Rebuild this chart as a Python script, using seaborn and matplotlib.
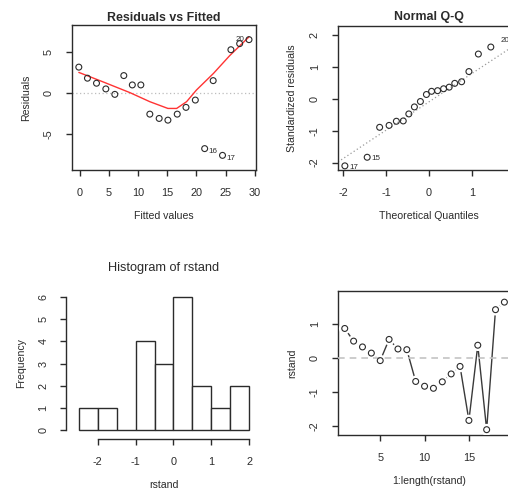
import matplotlib
matplotlib.use("Agg")
import numpy as np
import matplotlib.pyplot as plt
import seaborn as sns

# residuals vs fitted
fitted = [-0.17, 1.31, 2.86, 4.46, 6.0, 7.54, 9.0, 10.46, 12.0, 13.6,
          15.1, 16.7, 18.2, 19.8, 21.4, 22.86, 24.46, 25.9, 27.4, 29.0]
resid = [3.18, 1.82, 1.2, 0.5, -0.17, 2.14, 0.99, 0.99, -2.6, -3.13,
         -3.34, -2.6, -1.77, -0.87, -6.84, 1.52, -7.67, 5.32, 6.07, 6.56]
resid_label_at = [14, 16, 19]
resid_labels = ["16", "17", "20"]

# red smoother
smooth_x = [-0.17, 4.0, 8.6, 12.0, 15.1, 16.6, 18.3, 20.0, 22.9, 25.7, 29.0]
smooth_y = [2.53, 1.36, 0.04, -1.07, -1.9, -1.9, -1.07, 0.37, 2.4, 4.6, 6.9]

# standardized residuals, in observation order 1..20
rstand = [0.86, 0.49, 0.32, 0.14, -0.08, 0.54, 0.26, 0.24, -0.69, -0.83,
          -0.89, -0.70, -0.47, -0.25, -1.83, 0.37, -2.10, 1.41, 1.63, 1.83]

# normal Q-Q
qq_theory = [-1.96, -1.44, -1.15, -0.93, -0.76, -0.60, -0.47, -0.34, -0.20, -0.06,
             0.06, 0.20, 0.34, 0.47, 0.60, 0.76, 0.93, 1.15, 1.44, 1.96]
qq_labels = ["17", "15", "20"]
qq_slope = 0.89
qq_intercept = -0.09

hist_edges = [-2.5, -2.0, -1.5, -1.0, -0.5, 0.0, 0.5, 1.0, 1.5, 2.0]

INK = "#2b2b2b"
W, H = 508, 491

sns.set_style("white")
plt.rcParams["font.family"] = ["Liberation Sans", "DejaVu Sans"]
plt.rcParams["axes.unicode_minus"] = False
plt.rcParams["axes.edgecolor"] = INK
plt.rcParams["axes.linewidth"] = 1.0
plt.rcParams["text.color"] = INK
plt.rcParams["axes.labelcolor"] = INK
plt.rcParams["xtick.color"] = INK
plt.rcParams["ytick.color"] = INK


def box(fig, left, top, right, bottom):
    # pixel box -> figure fraction
    return fig.add_axes([left / W, 1 - bottom / H, (right - left) / W, (bottom - top) / H])


def r_axes(ax, xlabel, ylabel, title=None, title_pad=3, bold=True):
    ax.tick_params(axis="both", direction="out", length=4, width=1,
                   labelsize=7.8, pad=9, bottom=True, left=True)
    plt.setp(ax.get_yticklabels(), rotation=90, va="center")
    ax.set_xlabel(xlabel, fontsize=7.6, labelpad=9)
    ax.set_ylabel(ylabel, fontsize=7.6, labelpad=9)
    if title:
        if bold:
            ax.set_title(title, fontsize=8.9, fontweight="bold", pad=title_pad)
        else:
            ax.set_title(title, fontsize=9.2, pad=title_pad)


def hollow(ax, x, y):
    sns.scatterplot(x=x, y=y, ax=ax, marker="o", s=18, facecolor="none",
                    edgecolor=INK, linewidth=0.8, zorder=5)


fig = plt.figure(figsize=(W / 100, H / 100), dpi=100)

# --- Residuals vs Fitted
ax1 = box(fig, 72, 25, 256, 170)
ax1.axhline(0, color="#bdbdbd", lw=0.9, ls=(0, (1, 2)), zorder=1)
hollow(ax1, fitted, resid)
sns.lineplot(x=smooth_x, y=smooth_y, ax=ax1, color="#ff3333", lw=1.0, sort=False, zorder=4)
for i, lab in zip(resid_label_at, resid_labels):
    if fitted[i] > 26:
        ax1.annotate(lab, (fitted[i], resid[i]), xytext=(-3, 0), textcoords="offset points",
                     ha="right", va="center", fontsize=5.8)
    else:
        ax1.annotate(lab, (fitted[i], resid[i]), xytext=(3, -2), textcoords="offset points",
                     ha="left", va="center", fontsize=5.8)
ax1.set_xlim(-1.34, 30.2)
ax1.set_ylim(-9.47, 8.36)
ax1.set_xticks([0, 5, 10, 15, 20, 25, 30])
ax1.set_yticks([-5, 0, 5])
r_axes(ax1, "Fitted values", "Residuals", "Residuals vs Fitted")

# --- Normal Q-Q
ax2 = box(fig, 338, 26, 520, 170)
qq_sorted = sorted(rstand)
ax2.axline((0, qq_intercept), slope=qq_slope, color="#9a9a9a", lw=0.9, ls=(0, (1, 2)), zorder=1)
hollow(ax2, qq_theory, qq_sorted)
for pos, lab in zip([0, 1, len(qq_sorted) - 1], qq_labels):
    if qq_theory[pos] > 0:
        ax2.annotate(lab, (qq_theory[pos], qq_sorted[pos]), xytext=(-3, 0), textcoords="offset points",
                     ha="right", va="center", fontsize=5.8)
    else:
        ax2.annotate(lab, (qq_theory[pos], qq_sorted[pos]), xytext=(3, -1), textcoords="offset points",
                     ha="left", va="center", fontsize=5.8)
ax2.set_xlim(-2.12, 2.12)
ax2.set_ylim(-2.23, 2.29)
ax2.set_xticks([-2, -1, 0, 1])  # the "2" tick falls past the right edge
ax2.set_yticks([-2, -1, 0, 1, 2])
r_axes(ax2, "Theoretical Quantiles", "Standardized residuals", "Normal Q-Q", title_pad=4)

# --- Histogram of rstand
ax3 = box(fig, 72, 292, 256, 435)
sns.histplot(x=rstand, bins=hist_edges, stat="count", ax=ax3, color="white",
             edgecolor=INK, linewidth=1.0, alpha=1)
ax3.set_xlim(-2.68, 2.18)
ax3.set_ylim(-0.24, 6.24)
ax3.set_xticks([-2, -1, 0, 1, 2])
ax3.set_yticks([0, 1, 2, 3, 4, 5, 6])
for s in ["top", "right"]:
    ax3.spines[s].set_visible(False)
ax3.spines["left"].set_position(("outward", 4))
ax3.spines["bottom"].set_position(("outward", 3))
ax3.spines["left"].set_bounds(0, 6)
ax3.spines["bottom"].set_bounds(-2, 2)
r_axes(ax3, "rstand", "Frequency", "Histogram of rstand", title_pad=15, bold=False)

# --- rstand by index (type = "b")
ax4 = box(fig, 338, 291, 520, 435)
idx = list(range(1, len(rstand) + 1))
sns.lineplot(x=idx, y=rstand, ax=ax4, color="#3a3a3a", lw=1.0, zorder=2)
sns.scatterplot(x=idx, y=rstand, ax=ax4, marker="o", s=70, color="white",
                edgecolor="none", linewidth=0, zorder=3)
ax4.axhline(0, color="#c4c4c4", lw=1.2, ls=(0, (4, 3)), zorder=4)
hollow(ax4, idx, rstand)
ax4.set_xlim(0.24, 20.76)
ax4.set_ylim(-2.256, 1.956)
ax4.set_xticks([5, 10, 15])  # 20 falls past the right edge
ax4.set_yticks([-2, -1, 0, 1])
r_axes(ax4, "1:length(rstand)", "rstand")

fig.savefig("out.png", dpi=100)
